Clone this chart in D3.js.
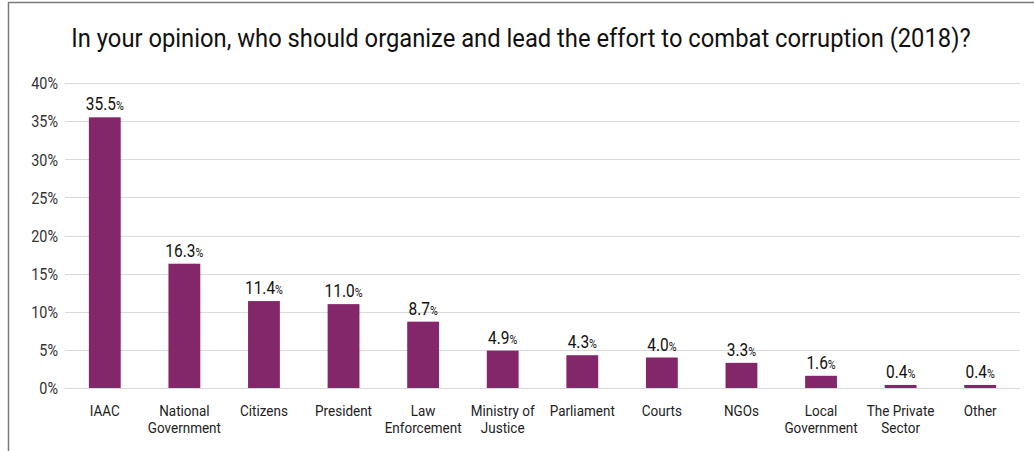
<!DOCTYPE html>
<html>
<head>
<meta charset="utf-8">
<script src="https://cdn.jsdelivr.net/npm/d3@7"></script>
<style>
  html, body { margin: 0; padding: 0; background: #fff; }
  svg { display: block; }
  text { font-family: "Roboto", "Liberation Sans", sans-serif; }
</style>
</head>
<body>
<svg id="chart" width="1034" height="451"></svg>
<script>
// Survey responses, share of respondents (%)
const categories = [
  ["IAAC"],
  ["National", "Government"],
  ["Citizens"],
  ["President"],
  ["Law", "Enforcement"],
  ["Ministry of", "Justice"],
  ["Parliament"],
  ["Courts"],
  ["NGOs"],
  ["Local", "Government"],
  ["The Private", "Sector"],
  ["Other"]
];
const values = [35.5, 16.3, 11.4, 11.0, 8.7, 4.9, 4.3, 4.0, 3.3, 1.6, 0.4, 0.4];
const yTicks = [0, 5, 10, 15, 20, 25, 30, 35, 40];
const title = "In your opinion, who should organize and lead the effort to combat corruption (2018)?";

const svg = d3.select("#chart");
const W = 1034, H = 451;
const barColor = "#84276a";

// narrow the typeface horizontally around each label's anchor point
function condense(sel, sx) {
  sel.each(function () {
    const t = d3.select(this);
    const tx = +t.attr("x") || 0, ty = +t.attr("y") || 0;
    t.attr("x", 0).attr("y", 0)
      .attr("transform", `translate(${tx},${ty}) scale(${sx},1)`);
    t.selectAll("tspan[x]").attr("x", 0);
  });
}

// outer frame
svg.append("path")
  .attr("d", `M8.5,${H} V2.5 H${W}`)
  .attr("fill", "none")
  .attr("stroke", "#7a7a7a")
  .attr("stroke-width", 1.5);

// title
const titleText = svg.append("text")
  .attr("x", 521)
  .attr("y", 46.5)
  .attr("text-anchor", "middle")
  .attr("font-size", 26)
  .attr("fill", "#111")
  .text(title);
condense(titleText, 0.914);

const keys = categories.map(d => d.join(" "));
const x = d3.scaleBand().domain(keys).range([65, 1020]).padding(0);
const y = d3.scaleLinear().domain([0, 40]).range([388, 83]);
const barW = x.bandwidth() * 0.4;

// gridlines
svg.append("g")
  .selectAll("line")
  .data(yTicks)
  .join("line")
  .attr("x1", 65)
  .attr("x2", 1020)
  .attr("y1", d => Math.round(y(d)) + 0.5)
  .attr("y2", d => Math.round(y(d)) + 0.5)
  .attr("stroke", "#d9d9d9")
  .attr("stroke-width", 1);

// y axis labels
const yAxis = d3.axisLeft(y).tickValues(yTicks).tickFormat(d => d + "%").tickSize(0).tickPadding(0);
const yg = svg.append("g").attr("transform", "translate(58,0)").call(yAxis);
yg.select(".domain").remove();
yg.attr("font-family", null).attr("font-size", null);
yg.selectAll("text")
  .attr("font-size", 16)
  .attr("fill", "#333")
  .attr("dy", "0.36em")
  .attr("transform", "scale(0.9,1)");

// bars
svg.append("g")
  .selectAll("rect")
  .data(values)
  .join("rect")
  .attr("x", (d, i) => x(keys[i]) + (x.bandwidth() - barW) / 2)
  .attr("y", d => y(d))
  .attr("width", barW)
  .attr("height", d => y(0) - y(d))
  .attr("fill", barColor);

// value labels
const labels = svg.append("g")
  .selectAll("text")
  .data(values)
  .join("text")
  .attr("x", (d, i) => x(keys[i]) + x.bandwidth() / 2)
  .attr("y", d => y(d) - 7)
  .attr("text-anchor", "middle")
  .attr("fill", "#111");
labels.append("tspan").attr("font-size", 18).text(d => d.toFixed(1));
labels.append("tspan").attr("font-size", 12.5).text("%");
condense(labels, 0.86);

// category labels
const xg = svg.append("g")
  .selectAll("text")
  .data(categories)
  .join("text")
  .attr("x", (d, i) => x(keys[i]) + x.bandwidth() / 2)
  .attr("y", 415.5)
  .attr("text-anchor", "middle")
  .attr("font-size", 14.5)
  .attr("fill", "#222");
xg.selectAll("tspan")
  .data(d => d)
  .join("tspan")
  .attr("x", 0)
  .attr("dy", (d, i) => i === 0 ? 0 : 17.5)
  .text(d => d);
condense(xg, 0.93);
</script>
</body>
</html>
